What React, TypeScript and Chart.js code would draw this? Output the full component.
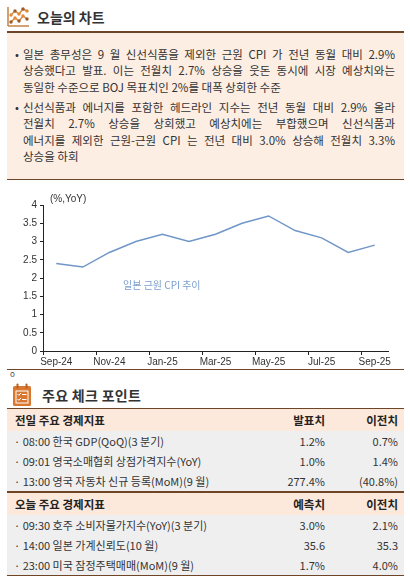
import React, { useEffect, useRef } from "react";
import { Chart, registerables } from "chart.js";

Chart.register(...registerables);

// ---- data ----
const months = ["Sep-24", "Oct-24", "Nov-24", "Dec-24", "Jan-25", "Feb-25", "Mar-25", "Apr-25", "May-25", "Jun-25", "Jul-25", "Aug-25", "Sep-25"];
const coreCpi = [2.4, 2.3, 2.7, 3.0, 3.2, 3.0, 3.2, 3.5, 3.7, 3.3, 3.1, 2.7, 2.9];
const yMin = 0;
const yMax = 4;
const yStep = 0.5;
const unitLabel = "(%,YoY)";
const seriesLabel = "일본 근원 CPI 추이";

const titleToday = "오늘의 차트";
const titleCheck = "주요 체크 포인트";

const para1Lines = [
  "일본 총무성은 9 월 신선식품을 제외한 근원 CPI 가 전년 동월 대비 2.9%",
  "상승했다고 발표. 이는 전월치 2.7% 상승을 웃돈 동시에 시장 예상치와는",
  "동일한 수준으로 BOJ 목표치인 2%를 대폭 상회한 수준",
];
const para2Lines = [
  "신선식품과 에너지를 포함한 헤드라인 지수는 전년 동월 대비 2.9% 올라",
  "전월치 2.7% 상승을 상회했고 예상치에는 부합했으며 신선식품과",
  "에너지를 제외한 근원-근원 CPI 는 전년 대비 3.0% 상승해 전월치 3.3%",
  "상승을 하회",
];

const prevHeader = ["전일 주요 경제지표", "발표치", "이전치"];
const prevEvents = ["· 08:00 한국 GDP(QoQ)(3 분기)", "· 09:01 영국소매협회 상점가격지수(YoY)", "· 13:00 영국 자동차 신규 등록(MoM)(9 월)"];
const prevActual = ["1.2%", "1.0%", "277.4%"];
const prevPrior = ["0.7%", "1.4%", "(40.8%)"];

const todayHeader = ["오늘 주요 경제지표", "예측치", "이전치"];
const todayEvents = ["· 09:30 호주 소비자물가지수(YoY)(3 분기)", "· 14:00 일본 가계신뢰도(10 월)", "· 23:00 미국 잠정주택매매(MoM)(9 월)"];
const todayForecast = ["3.0%", "35.6", "1.7%"];
const todayPrior = ["2.1%", "35.3", "4.0%"];

const KR = "'Noto Sans CJK KR', 'Noto Sans', sans-serif";
const BROWN = "#6e4526";

function ChartIcon() {
  return (
    <svg width="24" height="22" viewBox="0 0 24 22" style={{ position: "absolute", left: 6, top: 6 }}>
      <line x1="2" y1="1" x2="2" y2="20" stroke="#c98a52" strokeWidth="1.6" />
      <line x1="2" y1="20" x2="23" y2="20" stroke="#c98a52" strokeWidth="1.6" />
      <polyline points="5,9 9,5 13,8 17,3 21,5" fill="none" stroke="#d98a3c" strokeWidth="1.4" />
      <polyline points="5,16 9,12 13,15 17,10 21,13" fill="none" stroke="#d98a3c" strokeWidth="1.4" />
      {[[5, 9], [9, 5], [13, 8], [17, 3], [21, 5], [5, 16], [9, 12], [13, 15], [17, 10], [21, 13]].map((p, i) => (
        <circle key={i} cx={p[0]} cy={p[1]} r="1.7" fill={i % 2 ? "#9a5a2a" : "#e08a3a"} />
      ))}
    </svg>
  );
}

function CalendarIcon() {
  return (
    <svg width="20" height="24" viewBox="0 0 20 24" style={{ position: "absolute", left: 12, top: 383 }}>
      <rect x="1" y="3" width="18" height="20" rx="1.5" fill="#d9772f" />
      <rect x="4.5" y="0.5" width="2" height="5" rx="1" fill="#b95e1f" />
      <rect x="13.5" y="0.5" width="2" height="5" rx="1" fill="#b95e1f" />
      <rect x="4" y="8" width="12" height="12" fill="none" stroke="#fff" strokeWidth="1" />
      <polyline points="5.5,11 6.8,12.3 9,10" fill="none" stroke="#fff" strokeWidth="1" />
      <line x1="10" y1="11.5" x2="14.5" y2="11.5" stroke="#fff" strokeWidth="1" />
      <polyline points="5.5,16 6.8,17.3 9,15" fill="none" stroke="#fff" strokeWidth="1" />
      <line x1="10" y1="16.5" x2="14.5" y2="16.5" stroke="#fff" strokeWidth="1" />
    </svg>
  );
}

function Paragraph({ lines, top }: { lines: string[]; top: number }) {
  return (
    <div style={{ position: "absolute", left: 14, top, width: 383 }}>
      <div style={{ position: "absolute", left: 1, top: 0, fontSize: 11.5, lineHeight: "16.5px", color: "#333" }}>•</div>
      <div style={{ position: "absolute", left: 9, top: 0, width: 372 }}>
        {lines.map((l, i) => (
          <div
            key={i}
            style={{
              fontSize: 11.5,
              lineHeight: "16.5px",
              height: 16.5,
              color: "#333",
              textAlign: "justify",
              textAlignLast: i === lines.length - 1 ? "left" : "justify",
              whiteSpace: "normal",
            }}
          >
            {l}
          </div>
        ))}
      </div>
    </div>
  );
}

function Table({ top, header, events, a, b }: { top: number; header: string[]; events: string[]; a: string[]; b: string[] }) {
  const rowH = 20;
  const headH = 22;
  return (
    <div style={{ position: "absolute", left: 7, top, width: 397 }}>
      <div style={{ position: "absolute", left: 0, top: 0, width: 397, height: headH, background: "#fde9dc" }}>
        <div style={{ position: "absolute", left: 8, top: 0, lineHeight: headH + "px", fontSize: 11.5, fontWeight: 700, color: "#222" }}>{header[0]}</div>
        <div style={{ position: "absolute", right: 79, top: 0, lineHeight: headH + "px", fontSize: 11.5, fontWeight: 700, color: "#222" }}>{header[1]}</div>
        <div style={{ position: "absolute", right: 6, top: 0, lineHeight: headH + "px", fontSize: 11.5, fontWeight: 700, color: "#222" }}>{header[2]}</div>
      </div>
      <div style={{ position: "absolute", left: 0, top: headH, width: 397, height: rowH * events.length, background: "#efefef" }}>
        {events.map((e, i) => (
          <div key={i} style={{ position: "absolute", left: 0, top: i * rowH, width: 397, height: rowH }}>
            <div style={{ position: "absolute", left: 7, top: 0, lineHeight: rowH + "px", fontSize: 11, color: "#333", whiteSpace: "nowrap" }}>{e}</div>
            <div style={{ position: "absolute", right: 79, top: 0, lineHeight: rowH + "px", fontSize: 11, color: "#333" }}>{a[i]}</div>
            <div style={{ position: "absolute", right: 6, top: 0, lineHeight: rowH + "px", fontSize: 11, color: "#333" }}>{b[i]}</div>
          </div>
        ))}
      </div>
    </div>
  );
}

function CpiChart() {
  const ref = useRef<HTMLCanvasElement | null>(null);
  useEffect(() => {
    if (!ref.current) return;
    const tickFont = { family: "'Liberation Sans', Arial, sans-serif", size: 10 };
    const chart = new Chart(ref.current, {
      type: "line",
      data: {
        labels: months,
        datasets: [
          {
            label: seriesLabel,
            data: coreCpi,
            borderColor: "#7096c7",
            borderWidth: 1.5,
            pointRadius: 0,
            tension: 0,
            fill: false,
          },
        ],
      },
      options: {
        animation: false,
        responsive: false,
        maintainAspectRatio: false,
        layout: { padding: { top: 23, right: 22, left: 0, bottom: 0 } },
        plugins: { legend: { display: false }, tooltip: { enabled: false } },
        scales: {
          x: {
            type: "category",
            offset: true,
            grid: {
              display: true,
              drawOnChartArea: false,
              offset: true,
              tickLength: 4,
              tickWidth: 1,
              tickColor: (c: any) => (c.index % 2 === 0 ? "#222" : "rgba(0,0,0,0)"),
            },
            border: { display: true, color: "#222", width: 1 },
            ticks: {
              autoSkip: false,
              maxRotation: 0,
              minRotation: 0,
              padding: 1,
              font: tickFont,
              color: "#333",
              callback: (_v: any, i: number) => (i % 2 === 0 ? months[i] : ""),
            },
            afterFit: (s: any) => {
              s.height = 17;
            },
          },
          y: {
            min: yMin,
            max: yMax,
            ticks: {
              stepSize: yStep,
              padding: 3,
              font: tickFont,
              color: "#333",
              callback: (v: any) => String(Number(v)),
            },
            grid: { display: true, drawOnChartArea: false, tickLength: 3, tickColor: "#222" },
            border: { display: true, color: "#222", width: 1 },
            afterFit: (s: any) => {
              s.width = 43;
            },
          },
        },
      },
    });
    return () => chart.destroy();
  }, []);
  return <canvas ref={ref} width={410} height={186} style={{ position: "absolute", left: 0, top: 182, width: 410, height: 186 }} />;
}

export default function App() {
  return (
    <div style={{ position: "relative", width: 410, height: 586, overflow: "hidden", background: "#fff", fontFamily: KR }}>
      <style>{"body{margin:0;}"}</style>
      <ChartIcon />
      <div style={{ position: "absolute", left: 37, top: 7, lineHeight: "20px", fontSize: 14, fontWeight: 700, color: "#333" }}>{titleToday}</div>
      <div style={{ position: "absolute", left: 7, top: 31, width: 397, height: 1.5, background: BROWN }} />
      <div style={{ position: "absolute", left: 7, top: 32.5, width: 397, height: 146, background: "#fdeee3" }} />
      <div style={{ position: "absolute", left: 7, top: 178.5, width: 397, height: 1.5, background: BROWN }} />
      <Paragraph lines={para1Lines} top={45.5} />
      <Paragraph lines={para2Lines} top={98.5} />

      <CpiChart />
      <div style={{ position: "absolute", left: 50, top: 192, fontSize: 10, lineHeight: "14px", color: "#333", fontFamily: "'Liberation Sans', Arial, sans-serif" }}>{unitLabel}</div>
      <div style={{ position: "absolute", left: 123, top: 278, fontSize: 10, lineHeight: "14px", color: "#7b9ecf" }}>{seriesLabel}</div>
      <div style={{ position: "absolute", left: 7, top: 368.5, width: 397, height: 1.5, background: BROWN }} />

      <div style={{ position: "absolute", left: 10, top: 369, fontSize: 8, lineHeight: "10px", color: "#555" }}>o</div>
      <CalendarIcon />
      <div style={{ position: "absolute", left: 42, top: 385, lineHeight: "20px", fontSize: 14, fontWeight: 700, color: "#333", letterSpacing: 0.3 }}>{titleCheck}</div>
      <div style={{ position: "absolute", left: 7, top: 407.5, width: 397, height: 1.5, background: BROWN }} />
      <Table top={409} header={prevHeader} events={prevEvents} a={prevActual} b={prevPrior} />
      <div style={{ position: "absolute", left: 7, top: 491, width: 397, height: 1.5, background: BROWN }} />
      <Table top={492.5} header={todayHeader} events={todayEvents} a={todayForecast} b={todayPrior} />
      <div style={{ position: "absolute", left: 7, top: 574.5, width: 397, height: 1.5, background: BROWN }} />
    </div>
  );
}
